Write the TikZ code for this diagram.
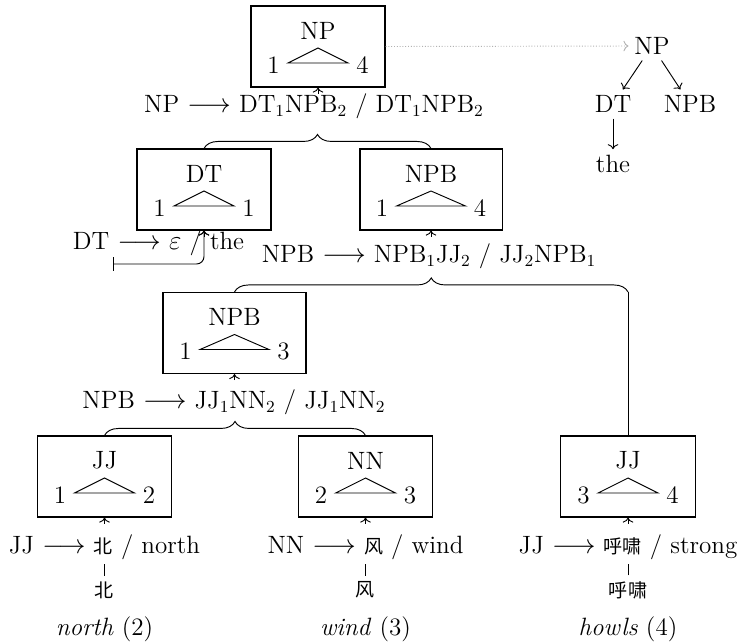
\documentclass[tikz,border=0pt]{standalone}
\usepackage{fontspec}
\newfontfamily\cjk[Scale=0.76]{Noto Sans CJK SC}
\usetikzlibrary{decorations.pathreplacing,calc,arrows.meta}
\newcommand\bigtext{\fontsize{13.4}{16}\selectfont}
\tikzset{
  txt/.style={inner sep=1pt, font=\bigtext},
  cjktxt/.style={inner sep=1pt, font=\bigtext\cjk},
  rulelbl/.style={txt, anchor=base, inner sep=0.5pt},
  tbox/.style={draw, line width=0.6pt, minimum height=43.3pt, inner sep=0pt},
  link/.style={line width=0.5pt},
  upar/.style={link, ->},
  brc/.style={link, decorate, decoration={brace, amplitude=7.5pt}},
  tick/.style={line width=0.45pt, shorten <=2pt, shorten >=2pt},
  dots/.style={gray!60, densely dotted, line width=0.5pt, ->}
}
\newcommand\synbox[8]{%
  \node[tbox, minimum width=#4] (#1) at (#2,#3) {};
  \node[txt] (#1-l) at ($(#1.center)+(0,-16)$) {#5};
  \draw[link] ($(#1.center)+(-#8,16.5)$) -- ($(#1.center)+(0,1.5)$) -- ($(#1.center)+(#8,16.5)$) -- cycle;
  \node[txt] (#1-a) at ($(#1.center)+(-#8-14.5,18.5)$) {#6};
  \node[txt] (#1-b) at ($(#1.center)+(#8+14.5,18.5)$) {#7};
  \draw[upar] ($(#1.south)+(0,6)$) -- (#1.south);
}
\begin{document}
\begin{tikzpicture}[x=0.5348pt,y=-0.5348pt]
\useasboundingbox (0,0) rectangle (742,643);
% boxes
\synbox{np}{318}{46.5}{71.7pt}{NP}{1}{4}{30}
\synbox{dt}{204}{189.5}{71.7pt}{DT}{1}{1}{30}
\synbox{npbA}{431}{189.5}{76pt}{NPB}{1}{4}{34.5}
\synbox{npbB}{234.5}{333}{76.5pt}{NPB}{1}{3}{34.5}
\synbox{jjA}{104.5}{476.5}{72pt}{JJ}{1}{2}{30}
\synbox{nn}{365.5}{476.5}{72pt}{NN}{2}{3}{30}
\synbox{jjB}{628}{476.5}{72pt}{JJ}{3}{4}{30}
% rule labels
\node[rulelbl] (r1) at (314,112) {NP $\longrightarrow$ DT$_1$NPB$_2$ / DT$_1$NPB$_2$};
\node[rulelbl] (rdt) at (158.5,249) {DT $\longrightarrow$ $\varepsilon$ / the};
\node[rulelbl] (r2) at (429,262) {NPB $\longrightarrow$ NPB$_1$JJ$_2$ / JJ$_2$NPB$_1$};
\node[rulelbl] (r3) at (234,408) {NPB $\longrightarrow$ JJ$_1$NN$_2$ / JJ$_1$NN$_2$};
\node[rulelbl] (r4) at (104.5,553) {JJ $\longrightarrow$ {\cjk 北} / north};
\node[rulelbl] (r5) at (365.5,553) {NN $\longrightarrow$ {\cjk 风} / wind};
\node[rulelbl] (r6) at (628,553) {JJ $\longrightarrow$ {\cjk 呼啸} / strong};
% epsilon rule
\coordinate (dtbar) at (113,264);
\draw[link, {Bar[width=7pt]}->, rounded corners=4pt] (dtbar) -- (dtbar -| dt.south) -- (dt.south);
% braces
\draw[brc] (dt.north) -- (npbA.north);
\draw[brc] (npbB.north) -- (npbB.north -| jjB.north);
\draw[link] (npbB.north -| jjB.north) -- (jjB.north);
\draw[brc] (jjA.north) -- (nn.north);
% source words
\node[cjktxt] (w1) at (104.5,590) {北};
\node[cjktxt] (w2) at (365.5,590) {风};
\node[cjktxt] (w3) at (628,590) {呼啸};
\draw[tick] (w1.north) -- (r4.south -| w1.north);
\draw[tick] (w2.north) -- (r5.south -| w2.north);
\draw[tick] (w3.north) -- (r6.south -| w3.north);
\node[rulelbl] (g1) at (104.5,635) {\textit{north} (2)};
\node[rulelbl] (g2) at (365.5,635) {\textit{wind} (3)};
\node[rulelbl] (g3) at (628,635) {\textit{howls} (4)};
% output tree
\node[txt, inner sep=3pt] (tnp) at (652,46) {NP};
\node[txt, inner sep=3pt] (tdt) at (613,104) {DT};
\node[txt, inner sep=3pt] (tnpb) at (690,104) {NPB};
\node[txt, inner sep=3pt] (tthe) at (613,164) {the};
\draw[dots] (np.east) -- (tnp.west);
\draw[upar] (tnp) -- (tdt);
\draw[upar] (tnp) -- (tnpb);
\draw[upar] (tdt) -- (tthe);
\end{tikzpicture}
\end{document}
